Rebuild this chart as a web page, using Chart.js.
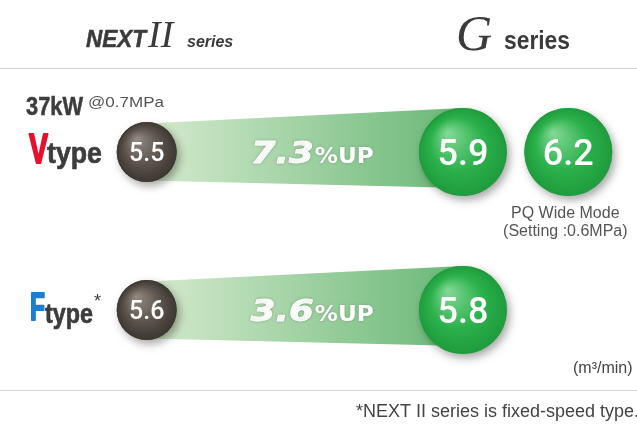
<!DOCTYPE html>
<html>
<head>
<meta charset="utf-8">
<script src="https://cdn.jsdelivr.net/npm/chart.js@4"></script>
<style>
  body { margin: 0; background: #fff; }
  #wrap { width: 637px; height: 425px; position: relative; }
</style>
</head>
<body>
<div id="wrap"><canvas id="flowChart"></canvas></div>
<script>
// Datos del grafico (m3/min)
const filas = ['V type', 'F type'];
const columnas = ['NEXT II', 'gap1', 'gap2', 'G', 'G PQ'];
const valoresNext = [5.5, 5.6];
const valoresG = [5.9, 5.8];
const valoresPQ = [6.2, null];

const puntos = (col, valores) => valores
  .map((v, i) => v === null ? null : { x: col, y: filas[i], v: v })
  .filter(p => p !== null);

// Texto ajustado a un ancho (fuentes condensadas que no tenemos)
function textoAjustado(ctx, txt, x, y, font, ancho, grosor) {
  ctx.font = font;
  const w = ctx.measureText(txt).width;
  ctx.save();
  ctx.translate(x, y);
  ctx.scale(ancho / w, 1);
  ctx.fillText(txt, 0, 0);
  if (grosor) {
    ctx.strokeStyle = ctx.fillStyle;
    ctx.lineWidth = grosor;
    ctx.lineJoin = 'round';
    ctx.strokeText(txt, 0, 0);
  }
  ctx.restore();
}

// Dibuja una bola con brillo y sombra
function bola(ctx, x, y, r, claro, base, oscuro) {
  ctx.save();
  ctx.shadowColor = 'rgba(0,0,0,0.35)';
  ctx.shadowBlur = 9;
  ctx.shadowOffsetX = 3;
  ctx.shadowOffsetY = 4;
  ctx.beginPath();
  ctx.arc(x, y, r, 0, Math.PI * 2);
  ctx.fillStyle = base;
  ctx.fill();
  ctx.restore();
  const g = ctx.createRadialGradient(x - r * 0.35, y - r * 0.45, 0, x, y, r);
  g.addColorStop(0, claro);
  g.addColorStop(0.6, base);
  g.addColorStop(1, oscuro);
  ctx.beginPath();
  ctx.arc(x, y, r, 0, Math.PI * 2);
  ctx.fillStyle = g;
  ctx.fill();
}

const pluginBolas = {
  id: 'bolas',
  beforeDatasetsDraw(chart) {
    const ctx = chart.ctx;
    const a = chart.getDatasetMeta(0).data;
    const b = chart.getDatasetMeta(1).data;
    a.forEach((p0, i) => {
      const p1 = b[i];
      const r0 = p0.options.radius, r1 = p1.options.radius;
      // banda verde entre las dos bolas
      const grad = ctx.createLinearGradient(p0.x + r0, 0, p1.x, 0);
      grad.addColorStop(0, 'rgba(204,230,198,1)');
      grad.addColorStop(1, 'rgba(104,183,118,1)');
      ctx.save();
      ctx.beginPath();
      ctx.moveTo(p0.x, p0.y - r0 * 0.95);
      ctx.lineTo(p1.x, p1.y - r1 * 1.0);
      ctx.lineTo(p1.x, p1.y + r1 * 0.82);
      ctx.lineTo(p0.x, p0.y + r0 * 0.95);
      ctx.closePath();
      ctx.fillStyle = grad;
      ctx.fill();

      // texto de porcentaje
      const pct = ((valoresG[i] - valoresNext[i]) / valoresNext[i] * 100).toFixed(1);
      const cx = (p0.x + p1.x) / 2 + 8;
      const x0 = cx - 62;
      ctx.shadowColor = 'rgba(0,0,0,0.2)';
      ctx.shadowBlur = 3;
      ctx.fillStyle = '#fff';
      ctx.textBaseline = 'alphabetic';
      textoAjustado(ctx, pct, x0, p0.y + 11, 'italic bold 30px "DejaVu Sans"', 63, 0.8);
      textoAjustado(ctx, '%UP', x0 + 64, p0.y + 11, 'bold 21px "DejaVu Sans"', 59);
      ctx.restore();
    });
  },
  afterDatasetsDraw(chart) {
    const ctx = chart.ctx;
    chart.data.datasets.forEach((ds, di) => {
      chart.getDatasetMeta(di).data.forEach((p, i) => {
        const r = p.options.radius;
        if (di === 0) {
          bola(ctx, p.x, p.y, r, '#948b83', '#5b534c', '#3d3731');
        } else {
          bola(ctx, p.x, p.y, r, '#86d898', '#2bb14b', '#1f9b3d');
        }
        ctx.save();
        ctx.fillStyle = '#fff';
        ctx.textAlign = 'center';
        ctx.textBaseline = 'alphabetic';
        const size = di === 0 ? 25 : 36;
        ctx.font = '500 ' + size + 'px Roboto';
        ctx.fillText(ds.data[i].v.toFixed(1), p.x, p.y + size * 0.36);
        ctx.restore();
      });
    });
  },
  afterDraw(chart) {
    const ctx = chart.ctx;
    const yS = chart.scales.y;
    const xS = chart.scales.x;
    const yV = yS.getPixelForValue(0), yF = yS.getPixelForValue(1);
    const xPQ = xS.getPixelForValue(4);
    ctx.save();
    ctx.textBaseline = 'alphabetic';

    // cabeceras
    ctx.fillStyle = '#3b3b3b';
    textoAjustado(ctx, 'NEXT', 86, 47, 'italic bold 23px "Liberation Sans"', 60, 0.5);
    ctx.font = 'italic 38px "Liberation Serif"';
    ctx.fillText('II', 148, 47);
    ctx.font = 'italic bold 16px "Liberation Sans"';
    ctx.fillText('series', 187, 47);
    ctx.font = 'italic 50px "Liberation Serif"';
    ctx.fillText('G', 456, 50);
    textoAjustado(ctx, 'series', 504, 49, 'bold 25px "Liberation Sans"', 66);

    // lineas separadoras
    ctx.strokeStyle = '#d4d4d4';
    ctx.lineWidth = 1;
    ctx.beginPath();
    ctx.moveTo(0, 68.5); ctx.lineTo(637, 68.5);
    ctx.moveTo(0, 390.5); ctx.lineTo(637, 390.5);
    ctx.stroke();

    // etiquetas de filas
    ctx.fillStyle = '#3d3d3d';
    textoAjustado(ctx, '37kW', 26, 115, 'bold 25px "Liberation Sans"', 57, 0.5);
    ctx.fillStyle = '#555';
    textoAjustado(ctx, '@0.7MPa', 88, 107, '14px "Liberation Sans"', 76);

    ctx.fillStyle = '#e6102d';
    textoAjustado(ctx, 'V', 29, yV + 11, 'bold 42px "Liberation Sans"', 19, 2);
    ctx.fillStyle = '#3d3d3d';
    textoAjustado(ctx, 'type', 47, yV + 11, 'bold 30px "Liberation Sans"', 55, 0.7);

    ctx.fillStyle = '#1e7fcf';
    textoAjustado(ctx, 'F', 30, yF + 10, 'bold 39px "Liberation Sans"', 15, 2);
    ctx.fillStyle = '#3d3d3d';
    textoAjustado(ctx, 'type', 45, yF + 13, 'bold 28px "Liberation Sans"', 48, 0.7);
    ctx.font = '18px "Liberation Sans"';
    ctx.fillText('*', 94, yF - 3);

    // notas
    ctx.fillStyle = '#555';
    ctx.textAlign = 'center';
    ctx.font = '16px "Liberation Sans"';
    ctx.fillText('PQ Wide Mode', xPQ - 3, 218);
    ctx.fillText('(Setting :0.6MPa)', xPQ - 3, 236);

    ctx.fillStyle = '#444';
    ctx.font = '16px "Liberation Sans"';
    ctx.textAlign = 'left';
    ctx.fillText('(m³/min)', 573, 373);
    ctx.font = '18px "Liberation Sans"';
    ctx.textAlign = 'right';
    ctx.fillText('*NEXT II series is fixed-speed type.', 639, 417);
    ctx.restore();
  }
};

const ctx = document.getElementById('flowChart').getContext('2d');
const chart = new Chart(ctx, {
  type: 'scatter',
  data: {
    datasets: [
      { label: 'NEXT II series', data: puntos('NEXT II', valoresNext),
        pointRadius: 30, backgroundColor: 'rgba(0,0,0,0)', borderWidth: 0 },
      { label: 'G series', data: puntos('G', valoresG).concat(puntos('G PQ', valoresPQ)),
        pointRadius: 44, backgroundColor: 'rgba(0,0,0,0)', borderWidth: 0 }
    ]
  },
  options: {
    responsive: true,
    maintainAspectRatio: false,
    animation: false,
    layout: { autoPadding: false, padding: { left: 94, right: 16, top: 73, bottom: 36 } },
    scales: {
      x: { type: 'category', labels: columnas, offset: true, display: false },
      y: { type: 'category', labels: filas, offset: true, display: false }
    },
    plugins: {
      legend: { display: false },
      tooltip: { enabled: false }
    }
  },
  plugins: [pluginBolas]
});
</script>
</body>
</html>
